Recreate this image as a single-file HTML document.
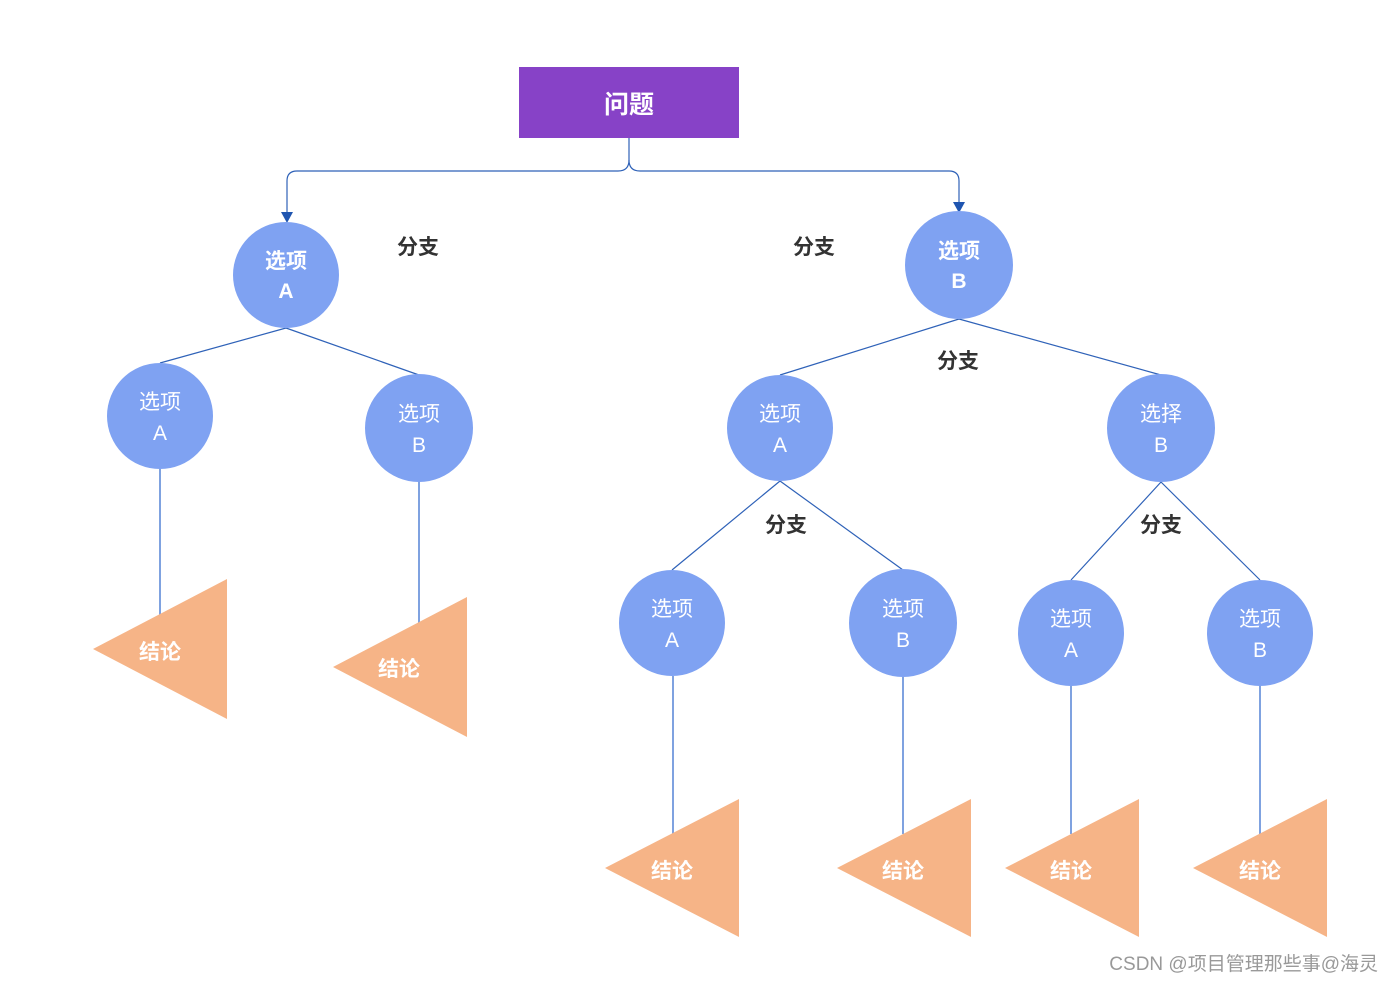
<!DOCTYPE html>
<html><head><meta charset="utf-8"><style>
html,body{margin:0;padding:0;background:#fff;}
svg{display:block;font-family:"Liberation Sans","Noto Sans CJK SC",sans-serif;}
</style></head><body>
<svg width="1392" height="982" viewBox="0 0 1392 982" xmlns="http://www.w3.org/2000/svg">
<rect x="519" y="67" width="220" height="71" fill="#8742C7"/>
<text x="629" y="113" font-size="25" font-weight="bold" fill="#fff" text-anchor="middle">问题</text>
<g fill="none" stroke="#2F62B8" stroke-width="1.2">
<path d="M629 138 V160 Q629 171 618 171 H297 Q287 171 287 181 V214"/>
<path d="M629 160 Q629 171 640 171 H949 Q959 171 959 181 V204"/>
<path d="M286 328 L160 363 M286 328 L419 375"/>
<path d="M959 319 L780 375 M959 319 L1161 375"/>
<path d="M780 481 L672 570 M780 481 L903 570"/>
<path d="M1161 482 L1071 580 M1161 482 L1260 580"/>
</g>
<g stroke="#7FA2E0" stroke-width="2">
<line x1="160" y1="469" x2="160" y2="616"/>
<line x1="419" y1="481" x2="419" y2="624"/>
<line x1="673" y1="676" x2="673" y2="834"/>
<line x1="903" y1="677" x2="903" y2="834"/>
<line x1="1071" y1="686" x2="1071" y2="834"/>
<line x1="1260" y1="686" x2="1260" y2="834"/>
</g>
<g fill="#1F55B0">
<path d="M281 212 L293 212 L287 223 Z"/>
<path d="M953 202 L965 202 L959 213 Z"/>
</g>
<g fill="#7FA2F2">
<circle cx="286" cy="275" r="53"/>
<circle cx="959" cy="265" r="54"/>
<circle cx="160" cy="416" r="53"/>
<circle cx="419" cy="428" r="54"/>
<circle cx="780" cy="428" r="53"/>
<circle cx="1161" cy="428" r="54"/>
<circle cx="672" cy="623" r="53"/>
<circle cx="903" cy="623" r="54"/>
<circle cx="1071" cy="633" r="53"/>
<circle cx="1260" cy="633" r="53"/>
</g>
<g fill="#F6B487">
<path d="M93 649 L227 579 L227 719 Z"/>
<path d="M333 667 L467 597 L467 737 Z"/>
<path d="M605 868 L739 799 L739 937 Z"/>
<path d="M837 868 L971 799 L971 937 Z"/>
<path d="M1005 868 L1139 799 L1139 937 Z"/>
<path d="M1193 868 L1327 799 L1327 937 Z"/>
</g>
<g fill="#fff" font-size="21" text-anchor="middle" font-weight="bold">
<text x="286" y="268">选项</text><text x="286" y="298">A</text>
<text x="959" y="258">选项</text><text x="959" y="288">B</text>
<text x="160" y="659">结论</text><text x="399" y="676">结论</text>
<text x="672" y="878">结论</text><text x="903" y="878">结论</text>
<text x="1071" y="878">结论</text><text x="1260" y="878">结论</text>
</g>
<g fill="#fff" font-size="21" text-anchor="middle">
<text x="160" y="409">选项</text><text x="160" y="440">A</text>
<text x="419" y="421">选项</text><text x="419" y="452">B</text>
<text x="780" y="421">选项</text><text x="780" y="452">A</text>
<text x="1161" y="421">选择</text><text x="1161" y="452">B</text>
<text x="672" y="616">选项</text><text x="672" y="647">A</text>
<text x="903" y="616">选项</text><text x="903" y="647">B</text>
<text x="1071" y="626">选项</text><text x="1071" y="657">A</text>
<text x="1260" y="626">选项</text><text x="1260" y="657">B</text>
</g>
<g fill="#333" font-size="21" font-weight="bold" text-anchor="middle">
<text x="418" y="254">分支</text>
<text x="814" y="254">分支</text>
<text x="958" y="368">分支</text>
<text x="786" y="532">分支</text>
<text x="1161" y="532">分支</text>
</g>
<text x="1378" y="970" font-size="19" fill="#999" text-anchor="end">CSDN @项目管理那些事@海灵</text>
</svg>
</body></html>
